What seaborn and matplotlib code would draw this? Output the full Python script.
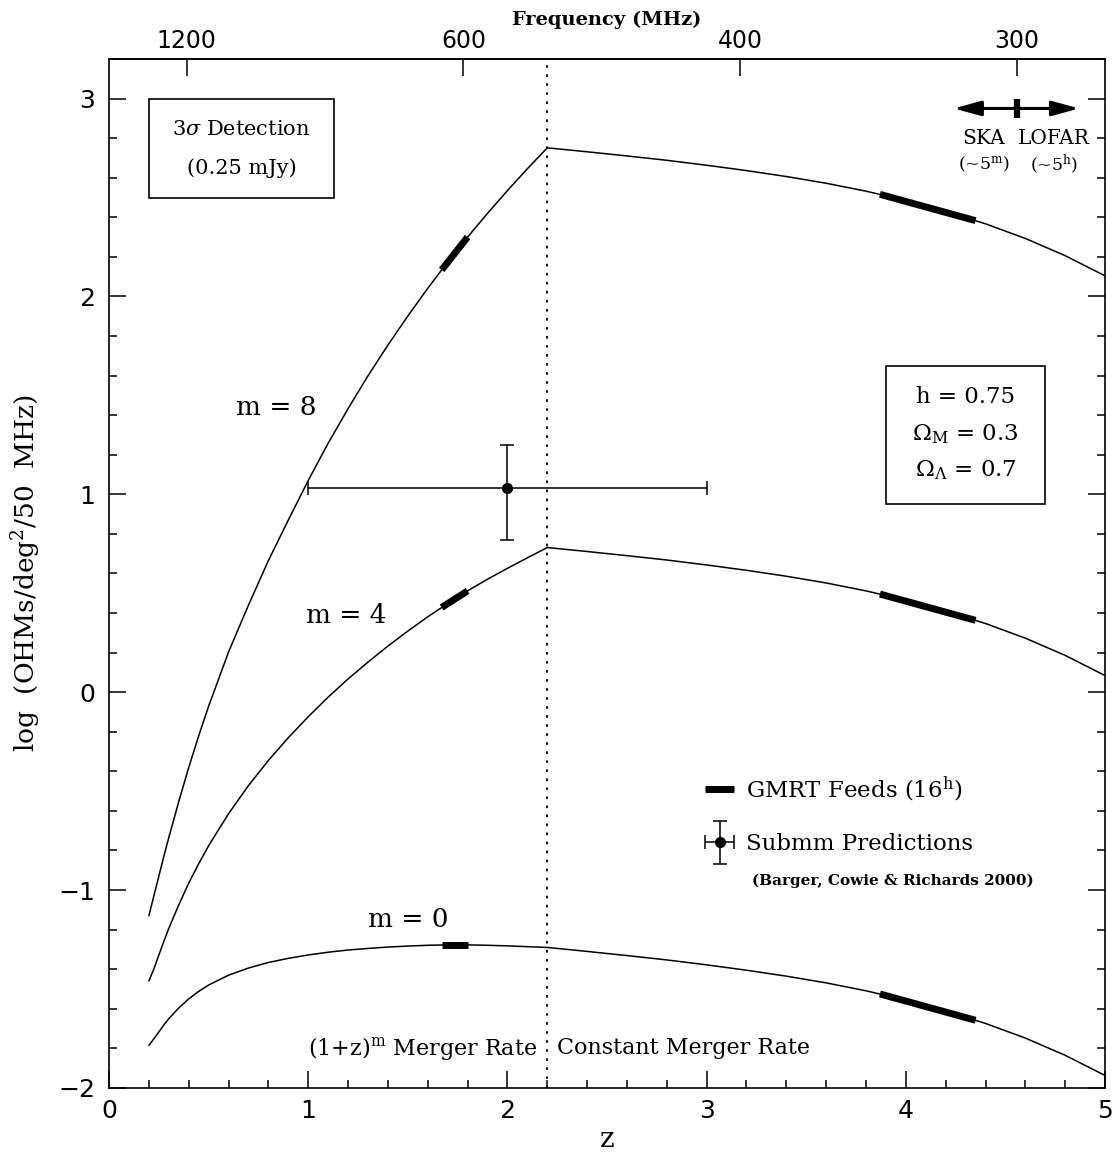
import numpy as np
import pandas as pd
import matplotlib
matplotlib.use("Agg")
import matplotlib.pyplot as plt
import seaborn as sns
from matplotlib.ticker import AutoMinorLocator, NullLocator
from matplotlib.patches import Rectangle
from matplotlib.lines import Line2D
from matplotlib.container import ErrorbarContainer
from matplotlib.legend_handler import HandlerErrorbar

# redshifts the curves were read at
z = [0.2, 0.225, 0.25, 0.275, 0.3, 0.35, 0.4, 0.45, 0.5, 0.6, 0.7, 0.8, 0.9,
     1.0, 1.1, 1.2, 1.3, 1.4, 1.5, 1.6, 1.7, 1.8, 1.9, 2.0, 2.1, 2.2,
     2.4, 2.6, 2.8, 3.0, 3.2, 3.4, 3.6, 3.8, 4.0, 4.2, 4.4, 4.6, 4.8, 5.0]

# log(OHMs/deg^2/50 MHz) for each merger-rate exponent m
m0 = [-1.785, -1.752, -1.717, -1.682, -1.650, -1.596, -1.550, -1.512, -1.480,
      -1.430, -1.394, -1.366, -1.345, -1.328, -1.314, -1.303, -1.295, -1.288,
      -1.283, -1.279, -1.277, -1.277, -1.279, -1.282, -1.286, -1.290,
      -1.310, -1.331, -1.353, -1.378, -1.405, -1.435, -1.469, -1.509, -1.556,
      -1.611, -1.674, -1.748, -1.835, -1.937]
m4 = [-1.460, -1.399, -1.329, -1.260, -1.194, -1.075, -0.965, -0.867, -0.776,
      -0.614, -0.472, -0.345, -0.230, -0.124, -0.025, 0.067, 0.152, 0.233,
      0.309, 0.381, 0.448, 0.512, 0.571, 0.626, 0.679, 0.731,
      0.711, 0.690, 0.668, 0.643, 0.616, 0.586, 0.552, 0.512, 0.465,
      0.410, 0.347, 0.273, 0.186, 0.084]
m8 = [-1.130, -1.030, -0.930, -0.830, -0.735, -0.553, -0.381, -0.221, -0.071,
      0.203, 0.440, 0.665, 0.870, 1.070, 1.258, 1.433, 1.599, 1.754,
      1.901, 2.041, 2.174, 2.300, 2.420, 2.535, 2.645, 2.751,
      2.731, 2.710, 2.688, 2.663, 2.636, 2.606, 2.572, 2.532, 2.485,
      2.430, 2.367, 2.293, 2.206, 2.104]
m_labels = ["m = 0", "m = 4", "m = 8"]

# GMRT feed coverage (thick pieces), z range and curve value at each end
gmrt_z = [[1.67, 1.80], [3.87, 4.35]]
gmrt_m0 = [[-1.277, -1.277], [-1.525, -1.658]]
gmrt_m4 = [[0.428, 0.512], [0.496, 0.363]]
gmrt_m8 = [[2.134, 2.300], [2.516, 2.383]]

# submm prediction (Barger, Cowie & Richards 2000)
sub_z, sub_y = [2.0], [1.03]
sub_zlo, sub_zhi = [1.0], [3.0]
sub_ylo, sub_yhi = [0.77], [1.25]

z_break = 2.2
nu_oh = 1667.359
freq_ticks = [1200, 600, 400, 300]
ska_lofar_freq = 300

sns.set_theme(style="ticks")
plt.rcParams["font.family"] = ["DejaVu Serif"]
plt.rcParams["mathtext.fontset"] = "dejavuserif"
plt.rcParams["axes.linewidth"] = 1.2
for key in ("text.color", "axes.labelcolor", "xtick.color", "ytick.color",
            "axes.edgecolor"):
    plt.rcParams[key] = "black"

fig = plt.figure(figsize=(11.17, 11.52), dpi=100)
ax = fig.add_axes([0.0976, 0.0556, 0.8917, 0.8932])

df = pd.DataFrame({
    "z": z * 3,
    "logN": m0 + m4 + m8,
    "m": sum([[lab] * len(z) for lab in m_labels], []),
})
sns.lineplot(data=df, x="z", y="logN", units="m", estimator=None,
             color="black", lw=1.1, ax=ax, legend=False)

for seg_y in (gmrt_m0, gmrt_m4, gmrt_m8):
    for zz, yy in zip(gmrt_z, seg_y):
        ax.plot(zz, yy, color="black", lw=5, solid_capstyle="butt")

ax.axvline(z_break, color="black", lw=1.3, ls=(0, (1.5, 3.5)))

eb = ax.errorbar(sub_z, sub_y,
                 xerr=[np.subtract(sub_z, sub_zlo), np.subtract(sub_zhi, sub_z)],
                 yerr=[np.subtract(sub_y, sub_ylo), np.subtract(sub_yhi, sub_y)],
                 fmt="o", color="black", ms=7, lw=1.1, capsize=5, capthick=1.1)

gmrt_handle = Line2D([], [], color="black", lw=5, solid_capstyle="butt")
ax.legend([gmrt_handle, eb], ["GMRT Feeds (16$^{\\rm h}$)", "Submm Predictions"],
          loc="upper left", bbox_to_anchor=(0.598, 0.305), frameon=False,
          fontsize=16.5, handlelength=1.3, handletextpad=0.5, labelspacing=1.3,
          borderpad=0, borderaxespad=0,
          handler_map={ErrorbarContainer: HandlerErrorbar(xerr_size=0.65, yerr_size=0.95)})
ax.text(3.23, -0.955, "(Barger, Cowie & Richards 2000)", fontsize=11,
        fontweight="bold", va="center", ha="left")

# curve labels
ax.text(0.84, 1.44, m_labels[2], fontsize=19, ha="center", va="center")
ax.text(1.19, 0.39, m_labels[1], fontsize=19, ha="center", va="center")
ax.text(1.50, -1.15, m_labels[0], fontsize=19, ha="center", va="center")

# detection limit box
ax.add_patch(Rectangle((0.2, 2.495), 0.93, 0.505, fill=False, ec="black", lw=1.2))
ax.text(0.665, 2.845, "3$\\sigma$ Detection", fontsize=15, ha="center", va="center")
ax.text(0.665, 2.65, "(0.25 mJy)", fontsize=15, ha="center", va="center")

# cosmology box
ax.add_patch(Rectangle((3.90, 0.95), 0.80, 0.70, fill=False, ec="black", lw=1.2))
ax.text(4.30, 1.49, "h = 0.75", fontsize=16.5, ha="center", va="center")
ax.text(4.30, 1.305, "$\\Omega_{\\rm M}$ = 0.3", fontsize=16.5, ha="center", va="center")
ax.text(4.30, 1.12, "$\\Omega_{\\Lambda}$ = 0.7", fontsize=16.5, ha="center", va="center")

# SKA / LOFAR marker at 300 MHz
z_sl = nu_oh / ska_lofar_freq - 1
for end in (4.24, 4.87):
    ax.annotate("", xy=(end, 2.95), xytext=(z_sl, 2.95),
                arrowprops=dict(arrowstyle="-|>,head_length=1.1,head_width=0.3",
                                color="black", lw=2.2, shrinkA=0, shrinkB=0,
                                mutation_scale=15))
ax.plot([z_sl, z_sl], [2.90, 3.00], color="black", lw=4.5, solid_capstyle="butt")
ax.text(4.39, 2.80, "SKA", fontsize=14.5, ha="center", va="center")
ax.text(4.745, 2.80, "LOFAR", fontsize=14.5, ha="center", va="center")
ax.text(4.39, 2.67, "(~5$^{\\rm m}$)", fontsize=12.5, ha="center", va="center")
ax.text(4.745, 2.67, "(~5$^{\\rm h}$)", fontsize=12.5, ha="center", va="center")

# merger-rate regimes
ax.text(z_break - 0.05, -1.80, "(1+z)$^{\\rm m}$ Merger Rate", fontsize=16,
        ha="right", va="center")
ax.text(z_break + 0.05, -1.80, "Constant Merger Rate", fontsize=16,
        ha="left", va="center")

ax.set_xlim(0, 5)
ax.set_ylim(-2, 3.2)
ax.set_xticks([0, 1, 2, 3, 4, 5])
ax.set_yticks([-2, -1, 0, 1, 2, 3])
ax.xaxis.set_minor_locator(AutoMinorLocator(5))
ax.yaxis.set_minor_locator(AutoMinorLocator(5))
ax.tick_params(which="both", direction="in", top=False, right=True,
               width=1.1, colors="black")
ax.tick_params(which="major", length=12)
ax.tick_params(which="minor", length=6)
ax.tick_params(axis="x", labelsize=18, pad=8, labelfontfamily="DejaVu Sans")
ax.tick_params(axis="y", labelsize=18, pad=10, labelfontfamily="DejaVu Sans")
ax.set_xlabel("z", fontsize=20, labelpad=2)
ax.set_ylabel("log  (OHMs/deg$^2$/50  MHz)", fontsize=19, labelpad=11)


def z2f(x):
    return nu_oh / (1 + np.asarray(x, dtype=float))


def f2z(f):
    with np.errstate(divide="ignore"):
        return nu_oh / np.asarray(f, dtype=float) - 1


sec = ax.secondary_xaxis("top", functions=(z2f, f2z))
sec.set_xticks(freq_ticks)
sec.xaxis.set_minor_locator(NullLocator())
sec.tick_params(direction="in", length=12, width=1.1, labelsize=17, pad=4,
                colors="black", labelfontfamily="DejaVu Sans")
sec.set_xlabel("Frequency (MHz)", fontsize=14, fontweight="bold", labelpad=3)

fig.savefig("out.png", dpi=100)
